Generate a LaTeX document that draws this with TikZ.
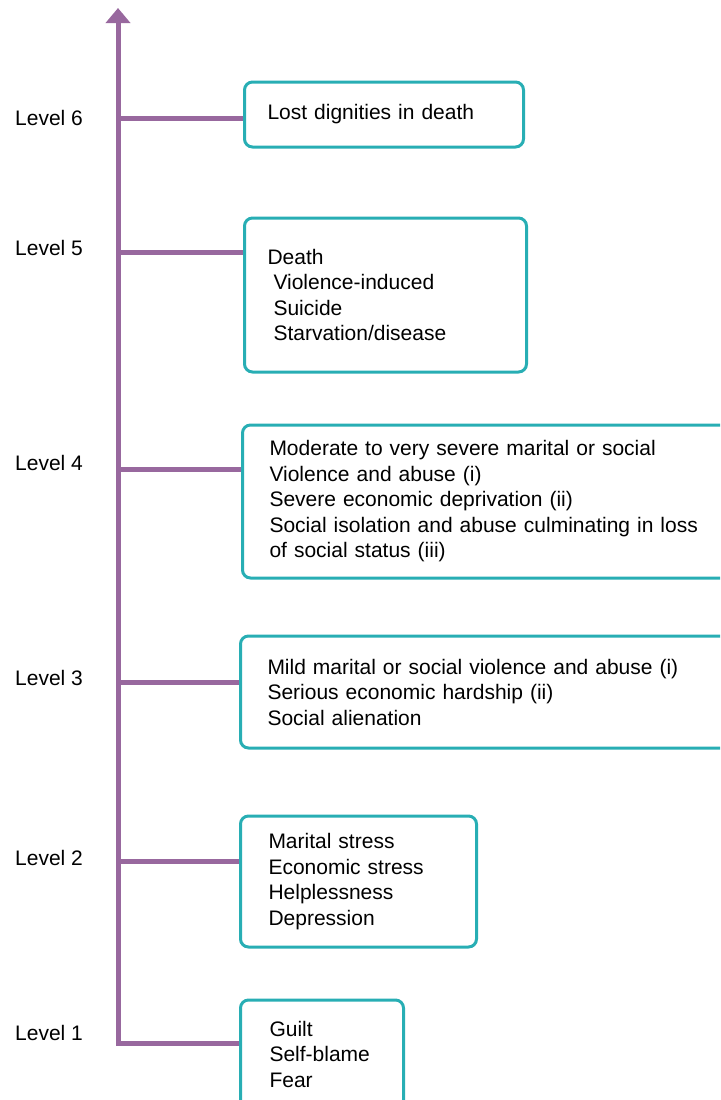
\documentclass[tikz,border=0pt]{standalone}
\usepackage{fontspec}
\setmainfont{Liberation Sans}
\usetikzlibrary{arrows.meta, calc}
\definecolor{axispurple}{RGB}{152,104,158}
\definecolor{boxteal}{RGB}{40,174,180}

\begin{document}
\begin{tikzpicture}[x = 1pt, y = -1pt, % pixel-like units, y pointing down
                > = {Triangle[width = 24pt, length = 15pt]}, % arrow head style
                font = \fontsize{21}{25.5}\selectfont
            ]

            \tikzstyle{axis}=[draw = axispurple, line width = 5pt]
            \tikzstyle{lvlbox}=[draw = boxteal, line width = 3pt, rounded corners = 8pt,
            anchor = west, align = left, inner xsep = 23pt, inner ysep = 0pt]
            \tikzstyle{lvl}=[anchor = west, inner sep = 0pt]

            \clip (0,0) rectangle (720,1100);

            % boxes
            \node (b6) [lvlbox, text width = 233pt, minimum height = 65pt] at (243,114.5)
            {Lost dignities in death};
            \node (b5) [lvlbox, text width = 236pt, minimum height = 154pt] at (243,295)
            {Death\\ \hspace*{6pt}Violence-induced\\ \hspace*{6pt}Suicide\\
            \hspace*{6pt}Starvation/disease};
            \node (b4) [lvlbox, inner xsep = 27pt, text width = 445pt, minimum height = 153pt]
            at (241,501.5)
            {Moderate to very severe marital or social\\ Violence and abuse (i)\\
            Severe economic deprivation (ii)\\ Social isolation and abuse culminating in loss\\
            of social status (iii)};
            \node (b3) [lvlbox, inner xsep = 27pt, text width = 447pt, minimum height = 112pt]
            at (239,692)
            {Mild marital or social violence and abuse (i)\\ Serious economic hardship (ii)\\
            Social alienation};
            \node (b2) [lvlbox, inner xsep = 28pt, text width = 180pt, minimum height = 131pt]
            at (239,881.5)
            {Marital stress\\ Economic stress\\ Helplessness\\ Depression};
            \node (b1) [lvlbox, inner xsep = 29pt, text width = 105pt, minimum height = 108pt]
            at (239,1054)
            {Guilt\\ Self-blame\\ Fear};

            % level labels
            \node (l6) [lvl] at (15,118) {Level 6};
            \node (l5) [lvl] at (15,248) {Level 5};
            \node (l4) [lvl] at (15,463) {Level 4};
            \node (l3) [lvl] at (15,678) {Level 3};
            \node (l2) [lvl] at (15,858) {Level 2};
            \node (l1) [lvl] at (15,1033) {Level 1};

            % axis and branches
            \coordinate (base) at (118,1043); \coordinate (top) at (118,8);
            \coordinate (a6) at (118,118); \coordinate (a5) at (118,252);
            \coordinate (a4) at (118,469); \coordinate (a3) at (118,682);
            \coordinate (a2) at (118,861);

            \path[axis, ->] (base -| b1.west) -- (base) -- (top);
            \foreach \i in {2,...,6} {\path[axis] (a\i) -- (a\i -| b\i.west);}

        \end{tikzpicture}
\end{document}
